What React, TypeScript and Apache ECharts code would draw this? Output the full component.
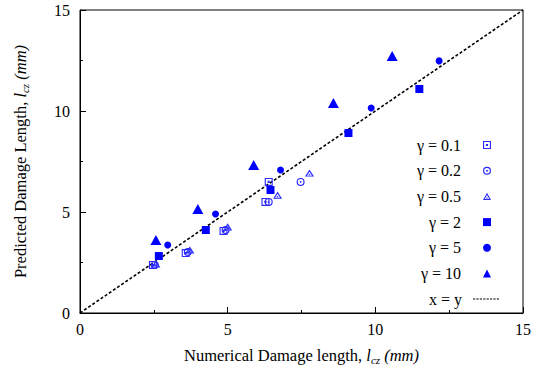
import React, { useEffect, useRef } from "react";
import * as echarts from "echarts";

const gamma01: number[][] = [[2.47, 2.38], [3.58, 2.97], [4.86, 4.06], [6.28, 5.5], [6.39, 6.49]];
const gamma02: number[][] = [[2.53, 2.38], [3.65, 3.02], [4.93, 4.11], [6.39, 5.5], [7.47, 6.49]];
const gamma05: number[][] = [[2.57, 2.43], [3.72, 3.12], [5.0, 4.26], [6.69, 5.84], [7.77, 6.93]];
const gamma2: number[][] = [[2.67, 2.82], [4.26, 4.11], [6.45, 6.09], [9.09, 8.91], [11.49, 11.09]];
const gamma5: number[][] = [[2.97, 3.37], [4.59, 4.9], [6.79, 7.08], [9.86, 10.15], [12.16, 12.48]];
const gamma10: number[][] = [[2.57, 3.61], [3.99, 5.15], [5.88, 7.33], [8.58, 10.4], [10.57, 12.72]];
const identityLine: number[][] = [[0, 0], [15, 15]];
const seriesNames = ["γ = 0.1", "γ = 0.2", "γ = 0.5", "γ = 2", "γ = 5", "γ = 10", "x = y"];

const FONT = "Liberation Serif";
const BLUE = "#0000ff";
const LIGHT = "#2a2aff";

const openSquare =
  "path://M0 0 H10 V10 H0 Z M1.4 1.4 V8.6 H8.6 V1.4 Z M3.6 3.6 H6.4 V6.4 H3.6 Z";
const openCircle =
  "path://M0 5 A5 5 0 1 1 10 5 A5 5 0 1 1 0 5 Z M1.5 5 A3.5 3.5 0 1 0 8.5 5 A3.5 3.5 0 1 0 1.5 5 Z M3.8 5 A1.2 1.2 0 1 1 6.2 5 A1.2 1.2 0 1 1 3.8 5 Z";
const openTriangle =
  "path://M5 0 L10 9 L0 9 Z M5 2.8 L2.2 7.8 L7.8 7.8 Z M5 5.2 L6.2 7.2 L3.8 7.2 Z";
const dashIcon =
  "path://M0 0H2.2V1H0Z M3.4 0H5.6V1H3.4Z M6.8 0H9V1H6.8Z M10.2 0H12.4V1H10.2Z M13.6 0H15.8V1H13.6Z M17 0H19.2V1H17Z M20.4 0H22.6V1H20.4Z M23.8 0H26V1H23.8Z";

export default function App() {
  const ref = useRef<HTMLDivElement>(null);
  useEffect(() => {
    if (!ref.current) return;
    const chart = echarts.init(ref.current, null, { renderer: "svg" });
    const scatter = (name: string, data: number[][], symbol: string, size: number | number[], color: string) => ({
      name,
      type: "scatter",
      data,
      symbol,
      symbolSize: size,
      symbolKeepAspect: true,
      itemStyle: { color, opacity: 1 },
      z: 3,
    });
    const nameRich = {
      i: { fontFamily: FONT, fontStyle: "italic", fontSize: 16.5, color: "#000" },
      s: { fontFamily: FONT, fontStyle: "italic", fontSize: 11, color: "#000", padding: [8, 0, 0, 0] },
    };
    chart.setOption({
      animation: false,
      backgroundColor: "#fff",
      grid: { left: 80, right: 10, top: 10, bottom: 61, show: true, borderColor: "#000", borderWidth: 1 },
      xAxis: {
        type: "value",
        min: 0,
        max: 15,
        interval: 5,
        name: "Numerical Damage length, {i|l}{s|cz} {i|(mm)}",
        nameLocation: "middle",
        nameGap: 33,
        nameTextStyle: { fontFamily: FONT, fontSize: 16.5, color: "#000", rich: nameRich },
        axisLine: { lineStyle: { color: "#000", width: 1 } },
        axisTick: { inside: true, length: 6, lineStyle: { color: "#000" } },
        minorTick: { show: true, splitNumber: 2, length: 3, lineStyle: { color: "#000" } },
        axisLabel: { fontFamily: FONT, fontSize: 16, color: "#000", margin: 8 },
        splitLine: { show: false },
      },
      yAxis: {
        type: "value",
        min: 0,
        max: 15,
        interval: 5,
        name: "Predicted Damage Length, {i|l}{s|cz} {i|(mm)}",
        nameLocation: "middle",
        nameGap: 50,
        nameTextStyle: { fontFamily: FONT, fontSize: 16.5, color: "#000", rich: nameRich },
        axisLine: { lineStyle: { color: "#000", width: 1 } },
        axisTick: { inside: true, length: 6, lineStyle: { color: "#000" } },
        minorTick: { show: true, splitNumber: 2, length: 3, lineStyle: { color: "#000" } },
        axisLabel: { fontFamily: FONT, fontSize: 16, color: "#000", margin: 10 },
        splitLine: { show: false },
      },
      legend: [
        {
          orient: "vertical",
          right: 38,
          top: 131,
          align: "right",
          itemWidth: 8,
          itemHeight: 8,
          itemGap: 7.7,
          data: seriesNames.slice(0, 6),
          textStyle: { fontFamily: FONT, fontSize: 16, color: "#000", lineHeight: 18, padding: [0, 17, 0, 0] },
        },
        {
          orient: "vertical",
          right: 30,
          top: 285,
          align: "right",
          itemWidth: 26,
          itemHeight: 1.5,
          data: [{ name: seriesNames[6], icon: dashIcon, itemStyle: { color: "#000" } }],
          textStyle: { fontFamily: FONT, fontSize: 16, color: "#000", lineHeight: 18, padding: [0, 6, 0, 0] },
        },
      ],
      series: [
        scatter(seriesNames[0], gamma01, openSquare, 8, LIGHT),
        scatter(seriesNames[1], gamma02, openCircle, 8, LIGHT),
        scatter(seriesNames[2], gamma05, openTriangle, [9, 8], LIGHT),
        scatter(seriesNames[3], gamma2, "rect", 8, BLUE),
        scatter(seriesNames[4], gamma5, "circle", 7, BLUE),
        scatter(seriesNames[5], gamma10, "triangle", [11, 10], BLUE),
        {
          name: seriesNames[6],
          type: "line",
          data: identityLine,
          symbol: "none",
          lineStyle: { color: "#000", width: 1.6, type: [3, 2] },
          itemStyle: { color: "#000" },
          z: 2,
        },
      ],
    });
    return () => chart.dispose();
  }, []);
  return <div ref={ref} style={{ position: "fixed", left: 0, top: 0, width: 534, height: 374 }} />;
}
